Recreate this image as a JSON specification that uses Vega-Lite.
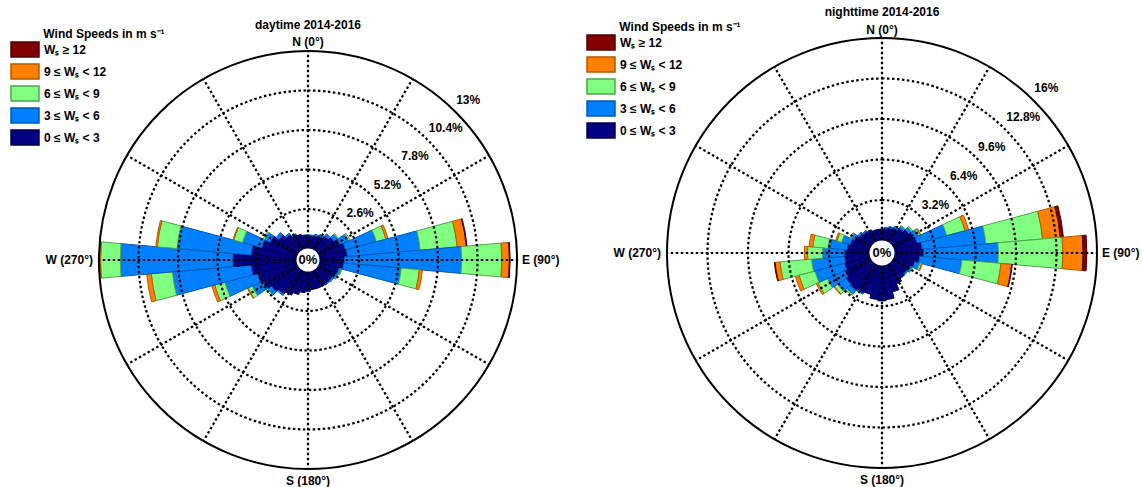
{
  "$schema": "https://vega.github.io/schema/vega-lite/v6.json",
  "width": 1142,
  "height": 487,
  "padding": 0,
  "autosize": {"type": "none"},
  "background": "white",
  "config": {
    "view": {"stroke": null},
    "font": "Liberation Sans",
    "text": {"font": "Liberation Sans", "fontWeight": "bold", "fontSize": 12, "color": "black"}
  },
  "datasets": {
    "bars": [
      {"p":"d","d":0,"k":1,"v":0.85},{"p":"d","d":0,"k":2,"v":0.05},
      {"p":"d","d":10,"k":1,"v":0.85},{"p":"d","d":10,"k":2,"v":0.05},
      {"p":"d","d":20,"k":1,"v":0.9},{"p":"d","d":20,"k":2,"v":0.1},
      {"p":"d","d":30,"k":1,"v":1.0},{"p":"d","d":30,"k":2,"v":0.1},
      {"p":"d","d":40,"k":1,"v":1.15},{"p":"d","d":40,"k":2,"v":0.2},
      {"p":"d","d":50,"k":1,"v":1.35},{"p":"d","d":50,"k":2,"v":0.3},{"p":"d","d":50,"k":3,"v":0.05},
      {"p":"d","d":60,"k":1,"v":1.6},{"p":"d","d":60,"k":2,"v":0.6},{"p":"d","d":60,"k":3,"v":0.1},
      {"p":"d","d":70,"k":1,"v":1.8},{"p":"d","d":70,"k":2,"v":2.1},{"p":"d","d":70,"k":3,"v":0.65},{"p":"d","d":70,"k":4,"v":0.15},
      {"p":"d","d":80,"k":1,"v":1.85},{"p":"d","d":80,"k":2,"v":4.8},{"p":"d","d":80,"k":3,"v":2.45},{"p":"d","d":80,"k":4,"v":0.6},{"p":"d","d":80,"k":5,"v":0.05},
      {"p":"d","d":90,"k":1,"v":1.65},{"p":"d","d":90,"k":2,"v":7.7},{"p":"d","d":90,"k":3,"v":2.65},{"p":"d","d":90,"k":4,"v":0.5},{"p":"d","d":90,"k":5,"v":0.05},
      {"p":"d","d":100,"k":1,"v":1.6},{"p":"d","d":100,"k":2,"v":3.8},{"p":"d","d":100,"k":3,"v":1.2},{"p":"d","d":100,"k":4,"v":0.2},
      {"p":"d","d":110,"k":1,"v":1.35},{"p":"d","d":110,"k":2,"v":0.15},{"p":"d","d":110,"k":3,"v":0.05},
      {"p":"d","d":120,"k":1,"v":1.3},{"p":"d","d":120,"k":2,"v":0.1},{"p":"d","d":120,"k":3,"v":0.05},
      {"p":"d","d":130,"k":1,"v":1.2},{"p":"d","d":130,"k":2,"v":0.1},
      {"p":"d","d":140,"k":1,"v":1.2},{"p":"d","d":140,"k":2,"v":0.05},
      {"p":"d","d":150,"k":1,"v":1.2},
      {"p":"d","d":160,"k":1,"v":1.2},
      {"p":"d","d":170,"k":1,"v":1.2},
      {"p":"d","d":180,"k":1,"v":1.3},
      {"p":"d","d":190,"k":1,"v":1.4},
      {"p":"d","d":200,"k":1,"v":1.6},
      {"p":"d","d":210,"k":1,"v":1.8},
      {"p":"d","d":220,"k":1,"v":2.0},{"p":"d","d":220,"k":2,"v":0.1},
      {"p":"d","d":230,"k":1,"v":2.2},{"p":"d","d":230,"k":2,"v":0.3},{"p":"d","d":230,"k":3,"v":0.1},
      {"p":"d","d":240,"k":1,"v":2.5},{"p":"d","d":240,"k":2,"v":0.8},{"p":"d","d":240,"k":3,"v":0.3},{"p":"d","d":240,"k":4,"v":0.05},
      {"p":"d","d":250,"k":1,"v":2.7},{"p":"d","d":250,"k":2,"v":2.2},{"p":"d","d":250,"k":3,"v":0.7},{"p":"d","d":250,"k":4,"v":0.2},
      {"p":"d","d":260,"k":1,"v":3.0},{"p":"d","d":260,"k":2,"v":5.2},{"p":"d","d":260,"k":3,"v":1.4},{"p":"d","d":260,"k":4,"v":0.3},
      {"p":"d","d":270,"k":1,"v":4.2},{"p":"d","d":270,"k":2,"v":7.4},{"p":"d","d":270,"k":3,"v":1.3},{"p":"d","d":270,"k":4,"v":0.05},
      {"p":"d","d":280,"k":1,"v":3.0},{"p":"d","d":280,"k":2,"v":4.9},{"p":"d","d":280,"k":3,"v":1.3},{"p":"d","d":280,"k":4,"v":0.1},
      {"p":"d","d":290,"k":1,"v":2.4},{"p":"d","d":290,"k":2,"v":1.3},{"p":"d","d":290,"k":3,"v":0.6},{"p":"d","d":290,"k":4,"v":0.05},
      {"p":"d","d":300,"k":1,"v":2.0},{"p":"d","d":300,"k":2,"v":0.4},{"p":"d","d":300,"k":3,"v":0.1},
      {"p":"d","d":310,"k":1,"v":1.6},{"p":"d","d":310,"k":2,"v":0.2},
      {"p":"d","d":320,"k":1,"v":1.3},{"p":"d","d":320,"k":2,"v":0.1},
      {"p":"d","d":330,"k":1,"v":1.1},{"p":"d","d":330,"k":2,"v":0.05},
      {"p":"d","d":340,"k":1,"v":1.0},
      {"p":"d","d":350,"k":1,"v":0.9},

      {"p":"n","d":0,"k":1,"v":0.9},
      {"p":"n","d":10,"k":1,"v":1.0},{"p":"n","d":10,"k":2,"v":0.05},
      {"p":"n","d":20,"k":1,"v":1.1},{"p":"n","d":20,"k":2,"v":0.1},
      {"p":"n","d":30,"k":1,"v":1.2},{"p":"n","d":30,"k":2,"v":0.15},
      {"p":"n","d":40,"k":1,"v":1.4},{"p":"n","d":40,"k":2,"v":0.2},{"p":"n","d":40,"k":3,"v":0.05},
      {"p":"n","d":50,"k":1,"v":1.6},{"p":"n","d":50,"k":2,"v":0.3},{"p":"n","d":50,"k":3,"v":0.1},
      {"p":"n","d":60,"k":1,"v":1.8},{"p":"n","d":60,"k":2,"v":0.4},{"p":"n","d":60,"k":3,"v":0.15},{"p":"n","d":60,"k":4,"v":0.05},
      {"p":"n","d":70,"k":1,"v":1.9},{"p":"n","d":70,"k":2,"v":2.4},{"p":"n","d":70,"k":3,"v":1.5},{"p":"n","d":70,"k":4,"v":0.3},
      {"p":"n","d":80,"k":1,"v":2.2},{"p":"n","d":80,"k":2,"v":5.05},{"p":"n","d":80,"k":3,"v":4.5},{"p":"n","d":80,"k":4,"v":1.4},{"p":"n","d":80,"k":5,"v":0.25},
      {"p":"n","d":90,"k":1,"v":2.3},{"p":"n","d":90,"k":2,"v":5.9},{"p":"n","d":90,"k":3,"v":5.1},{"p":"n","d":90,"k":4,"v":1.6},{"p":"n","d":90,"k":5,"v":0.3},
      {"p":"n","d":100,"k":1,"v":2.0},{"p":"n","d":100,"k":2,"v":3.35},{"p":"n","d":100,"k":3,"v":3.1},{"p":"n","d":100,"k":4,"v":0.85},{"p":"n","d":100,"k":5,"v":0.05},
      {"p":"n","d":110,"k":1,"v":1.7},{"p":"n","d":110,"k":2,"v":0.4},{"p":"n","d":110,"k":3,"v":0.15},{"p":"n","d":110,"k":4,"v":0.05},
      {"p":"n","d":120,"k":1,"v":1.5},{"p":"n","d":120,"k":2,"v":0.15},{"p":"n","d":120,"k":3,"v":0.05},
      {"p":"n","d":130,"k":1,"v":1.4},{"p":"n","d":130,"k":2,"v":0.1},
      {"p":"n","d":140,"k":1,"v":1.5},
      {"p":"n","d":150,"k":1,"v":1.7},
      {"p":"n","d":160,"k":1,"v":2.2},
      {"p":"n","d":170,"k":1,"v":2.7},
      {"p":"n","d":180,"k":1,"v":2.8},
      {"p":"n","d":190,"k":1,"v":2.7},
      {"p":"n","d":200,"k":1,"v":2.4},
      {"p":"n","d":210,"k":1,"v":2.5},{"p":"n","d":210,"k":2,"v":0.1},
      {"p":"n","d":220,"k":1,"v":2.6},{"p":"n","d":220,"k":2,"v":0.4},{"p":"n","d":220,"k":3,"v":0.1},
      {"p":"n","d":230,"k":1,"v":2.5},{"p":"n","d":230,"k":2,"v":0.8},{"p":"n","d":230,"k":3,"v":0.3},{"p":"n","d":230,"k":4,"v":0.05},
      {"p":"n","d":240,"k":1,"v":2.3},{"p":"n","d":240,"k":2,"v":1.5},{"p":"n","d":240,"k":3,"v":0.8},{"p":"n","d":240,"k":4,"v":0.15},
      {"p":"n","d":250,"k":1,"v":2.1},{"p":"n","d":250,"k":2,"v":2.4},{"p":"n","d":250,"k":3,"v":1.3},{"p":"n","d":250,"k":4,"v":0.3},
      {"p":"n","d":260,"k":1,"v":2.0},{"p":"n","d":260,"k":2,"v":2.6},{"p":"n","d":260,"k":3,"v":2.5},{"p":"n","d":260,"k":4,"v":0.4},{"p":"n","d":260,"k":5,"v":0.05},
      {"p":"n","d":270,"k":1,"v":2.0},{"p":"n","d":270,"k":2,"v":1.7},{"p":"n","d":270,"k":3,"v":1.2},{"p":"n","d":270,"k":4,"v":0.25},
      {"p":"n","d":280,"k":1,"v":1.8},{"p":"n","d":280,"k":2,"v":1.5},{"p":"n","d":280,"k":3,"v":1.2},{"p":"n","d":280,"k":4,"v":0.3},
      {"p":"n","d":290,"k":1,"v":1.6},{"p":"n","d":290,"k":2,"v":0.7},{"p":"n","d":290,"k":3,"v":0.4},{"p":"n","d":290,"k":4,"v":0.1},
      {"p":"n","d":300,"k":1,"v":1.4},{"p":"n","d":300,"k":2,"v":0.3},{"p":"n","d":300,"k":3,"v":0.1},
      {"p":"n","d":310,"k":1,"v":1.2},{"p":"n","d":310,"k":2,"v":0.15},
      {"p":"n","d":320,"k":1,"v":1.1},{"p":"n","d":320,"k":2,"v":0.1},
      {"p":"n","d":330,"k":1,"v":1.0},{"p":"n","d":330,"k":2,"v":0.05},
      {"p":"n","d":340,"k":1,"v":0.9},
      {"p":"n","d":350,"k":1,"v":0.9}
    ],
    "rings": [
      {"p":"d","v":2.6,"t":"2.6%"},{"p":"d","v":5.2,"t":"5.2%"},{"p":"d","v":7.8,"t":"7.8%"},{"p":"d","v":10.4,"t":"10.4%"},{"p":"d","v":13,"t":"13%"},
      {"p":"n","v":3.2,"t":"3.2%"},{"p":"n","v":6.4,"t":"6.4%"},{"p":"n","v":9.6,"t":"9.6%"},{"p":"n","v":12.8,"t":"12.8%"},{"p":"n","v":16,"t":"16%"}
    ],
    "spokes": [
      {"p":"d","a":0},{"p":"d","a":30},{"p":"d","a":60},{"p":"d","a":90},{"p":"d","a":120},{"p":"d","a":150},
      {"p":"d","a":180},{"p":"d","a":210},{"p":"d","a":240},{"p":"d","a":270},{"p":"d","a":300},{"p":"d","a":330},
      {"p":"n","a":0},{"p":"n","a":30},{"p":"n","a":60},{"p":"n","a":90},{"p":"n","a":120},{"p":"n","a":150},
      {"p":"n","a":180},{"p":"n","a":210},{"p":"n","a":240},{"p":"n","a":270},{"p":"n","a":300},{"p":"n","a":330}
    ],
    "names": [
      {"p":"d","title":"daytime 2014-2016","n":"N (0°)","s":"S (180°)","e":"E (90°)","w":"W (270°)","c":"0%"},
      {"p":"n","title":"nighttime 2014-2016","n":"N (0°)","s":"S (180°)","e":"E (90°)","w":"W (270°)","c":"0%"}
    ]
  },
  "encoding": {
    "x": {"field": "p", "type": "nominal", "axis": null, "scale": {"type": "point", "domain": ["d", "n"], "range": [308, 882], "padding": 0}},
    "y": {"field": "p", "type": "nominal", "axis": null, "scale": {"type": "point", "domain": ["d", "n"], "range": [260, 253], "padding": 0}}
  },
  "layer": [
    {
      "layer": [
        {
          "data": {"name": "bars"},
          "transform": [
            {"filter": "datum.p == 'd'"},
            {"stack": "v", "groupby": ["d"], "sort": [{"field": "k", "order": "ascending"}], "as": ["r0", "r1"]}
          ],
          "mark": {"type": "arc", "strokeWidth": 1, "binSpacing": 0},
          "encoding": {
            "theta": {"field": "d", "type": "quantitative", "bin": {"step": 10, "extent": [-5, 355], "nice": false}, "scale": {"domain": [0, 360], "range": [0, 6.283185307179586]}},
            "radius": {"field": "r0", "type": "quantitative", "stack": null, "scale": {"type": "linear", "domain": [0, 13], "range": [11.5, 209], "zero": false, "nice": false}},
            "radius2": {"field": "r1"},
            "fill": {"field": "k", "type": "ordinal", "scale": {"domain": [5, 4, 3, 2, 1], "range": ["#800000", "#ff8000", "#80ff80", "#0080ff", "#000080"]},
              "legend": {"orient": "none", "legendX": 10, "legendY": 29, "title": "\u200b\u00a0\u00a0\u00a0\u00a0\u00a0\u00a0\u00a0\u00a0\u00a0\u00a0Wind Speeds in m s⁻¹", "titleFontSize": 12, "titleFontWeight": "bold", "titleFont": "Liberation Sans", "titlePadding": 0, "titleLimit": 400, "labelFont": "Liberation Sans", "labelFontSize": 12, "labelFontWeight": "bold", "labelOffset": 17, "symbolType": "M-1,-1h3.7333v2h-3.7333z", "symbolSize": 225, "symbolStrokeWidth": 1.5, "rowPadding": 1, "padding": 0,
                "labelExpr": "datum.value == 5 ? 'Wₛ ≥ 12' : datum.value == 4 ? '9 ≤ Wₛ < 12' : datum.value == 3 ? '6 ≤ Wₛ < 9' : datum.value == 2 ? '3 ≤ Wₛ < 6' : '0 ≤ Wₛ < 3'"}},
            "stroke": {"field": "k", "type": "ordinal", "scale": {"domain": [5, 4, 3, 2, 1], "range": ["#4d0000", "#b35a00", "#4da64d", "#0059b3", "#00004d"]},
              "legend": {"orient": "none", "legendX": 10, "legendY": 29, "title": "\u200b\u00a0\u00a0\u00a0\u00a0\u00a0\u00a0\u00a0\u00a0\u00a0\u00a0Wind Speeds in m s⁻¹", "titleFontSize": 12, "titleFontWeight": "bold", "titleFont": "Liberation Sans", "titlePadding": 0, "titleLimit": 400, "labelFont": "Liberation Sans", "labelFontSize": 12, "labelFontWeight": "bold", "labelOffset": 17, "symbolType": "M-1,-1h3.7333v2h-3.7333z", "symbolSize": 225, "symbolStrokeWidth": 1.5, "rowPadding": 1, "padding": 0,
                "labelExpr": "datum.value == 5 ? 'Wₛ ≥ 12' : datum.value == 4 ? '9 ≤ Wₛ < 12' : datum.value == 3 ? '6 ≤ Wₛ < 9' : datum.value == 2 ? '3 ≤ Wₛ < 6' : '0 ≤ Wₛ < 3'"}}
          }
        },
        {
          "data": {"name": "rings"},
          "transform": [{"filter": "datum.p == 'd' && datum.v < 13"}],
          "mark": {"type": "arc", "filled": false, "color": "black", "stroke": "black", "strokeWidth": 2.2, "strokeDash": [2.5, 2.5], "theta": 0, "theta2": 6.283185307179586, "radius2": 0},
          "encoding": {"radius": {"field": "v", "type": "quantitative", "stack": null, "scale": {"type": "linear", "domain": [0, 13], "range": [11.5, 209], "zero": false, "nice": false}}}
        },
        {
          "data": {"name": "rings"},
          "transform": [{"filter": "datum.p == 'd' && datum.v == 13"}],
          "mark": {"type": "arc", "filled": false, "color": "black", "stroke": "black", "strokeWidth": 2, "theta": 0, "theta2": 6.283185307179586, "radius2": 0},
          "encoding": {"radius": {"field": "v", "type": "quantitative", "stack": null, "scale": {"type": "linear", "domain": [0, 13], "range": [11.5, 209], "zero": false, "nice": false}}}
        },
        {
          "data": {"name": "spokes"},
          "transform": [{"filter": "datum.p == 'd'"}],
          "mark": {"type": "arc", "filled": false, "color": "black", "stroke": "black", "strokeWidth": 2.2, "strokeDash": [1.25, 3.75]},
          "encoding": {
            "theta": {"field": "a", "type": "quantitative", "stack": null, "scale": {"domain": [0, 360], "range": [0, 6.283185307179586]}},
            "theta2": {"field": "a"},
            "radius": {"datum": 0, "type": "quantitative", "scale": {"type": "linear", "domain": [0, 13], "range": [11.5, 209], "zero": false, "nice": false}},
            "radius2": {"datum": 13}
          }
        },
        {
          "data": {"name": "names"},
          "transform": [{"filter": "datum.p == 'd'"}],
          "mark": {"type": "arc", "fill": "white", "stroke": null, "theta": 0, "theta2": 6.283185307179586, "radius2": 0},
          "encoding": {"radius": {"datum": 0, "type": "quantitative", "scale": {"type": "linear", "domain": [0, 13], "range": [11.5, 209], "zero": false, "nice": false}}}
        },
        {
          "data": {"name": "names"},
          "transform": [{"filter": "datum.p == 'd'"}],
          "mark": {"type": "text", "fontSize": 13, "baseline": "middle", "align": "center"},
          "encoding": {"text": {"field": "c"}}
        },
        {
          "data": {"name": "rings"},
          "transform": [{"filter": "datum.p == 'd'"}],
          "mark": {"type": "text", "align": "left", "baseline": "bottom", "dx": 3, "dy": -3},
          "encoding": {
            "text": {"field": "t"},
            "theta": {"datum": 44, "type": "quantitative", "scale": {"domain": [0, 360], "range": [0, 6.283185307179586]}},
            "radius": {"field": "v", "type": "quantitative", "stack": null, "scale": {"type": "linear", "domain": [0, 13], "range": [11.5, 209], "zero": false, "nice": false}}
          }
        },
        {
          "data": {"name": "names"},
          "transform": [{"filter": "datum.p == 'd'"}],
          "mark": {"type": "text", "align": "center", "baseline": "middle", "dy": -26},
          "encoding": {"text": {"field": "title"}, "theta": {"datum": 0, "type": "quantitative", "scale": {"domain": [0, 360], "range": [0, 6.283185307179586]}}, "radius": {"datum": 13, "type": "quantitative", "scale": {"type": "linear", "domain": [0, 13], "range": [11.5, 209], "zero": false, "nice": false}}}
        },
        {
          "data": {"name": "names"},
          "transform": [{"filter": "datum.p == 'd'"}],
          "mark": {"type": "text", "align": "center", "baseline": "middle", "dy": -9},
          "encoding": {"text": {"field": "n"}, "theta": {"datum": 0, "type": "quantitative"}, "radius": {"datum": 13, "type": "quantitative"}}
        },
        {
          "data": {"name": "names"},
          "transform": [{"filter": "datum.p == 'd'"}],
          "mark": {"type": "text", "align": "center", "baseline": "middle", "dy": 12},
          "encoding": {"text": {"field": "s"}, "theta": {"datum": 180, "type": "quantitative"}, "radius": {"datum": 13, "type": "quantitative"}}
        },
        {
          "data": {"name": "names"},
          "transform": [{"filter": "datum.p == 'd'"}],
          "mark": {"type": "text", "align": "left", "baseline": "middle", "dx": 5},
          "encoding": {"text": {"field": "e"}, "theta": {"datum": 90, "type": "quantitative"}, "radius": {"datum": 13, "type": "quantitative"}}
        },
        {
          "data": {"name": "names"},
          "transform": [{"filter": "datum.p == 'd'"}],
          "mark": {"type": "text", "align": "right", "baseline": "middle", "dx": -6},
          "encoding": {"text": {"field": "w"}, "theta": {"datum": 270, "type": "quantitative"}, "radius": {"datum": 13, "type": "quantitative"}}
        }
      ]
    },
    {
      "layer": [
        {
          "data": {"name": "bars"},
          "transform": [
            {"filter": "datum.p == 'n'"},
            {"stack": "v", "groupby": ["d"], "sort": [{"field": "k", "order": "ascending"}], "as": ["r0", "r1"]}
          ],
          "mark": {"type": "arc", "strokeWidth": 1, "binSpacing": 0},
          "encoding": {
            "theta": {"field": "d", "type": "quantitative", "bin": {"step": 10, "extent": [-5, 355], "nice": false}, "scale": {"domain": [0, 360], "range": [0, 6.283185307179586]}},
            "radius": {"field": "r0", "type": "quantitative", "stack": null, "scale": {"type": "linear", "domain": [0, 16], "range": [12.5, 215], "zero": false, "nice": false}},
            "radius2": {"field": "r1"},
            "fill": {"field": "k", "type": "ordinal", "scale": {"domain": [5, 4, 3, 2, 1], "range": ["#800000", "#ff8000", "#80ff80", "#0080ff", "#000080"]},
              "legend": {"orient": "none", "legendX": 586, "legendY": 22, "title": "\u200b\u00a0\u00a0\u00a0\u00a0\u00a0\u00a0\u00a0\u00a0\u00a0\u00a0Wind Speeds in m s⁻¹", "titleFontSize": 12, "titleFontWeight": "bold", "titleFont": "Liberation Sans", "titlePadding": 0, "titleLimit": 400, "labelFont": "Liberation Sans", "labelFontSize": 12, "labelFontWeight": "bold", "labelOffset": 17, "symbolType": "M-1,-1h3.7333v2h-3.7333z", "symbolSize": 225, "symbolStrokeWidth": 1.5, "rowPadding": 1, "padding": 0,
                "labelExpr": "datum.value == 5 ? 'Wₛ ≥ 12' : datum.value == 4 ? '9 ≤ Wₛ < 12' : datum.value == 3 ? '6 ≤ Wₛ < 9' : datum.value == 2 ? '3 ≤ Wₛ < 6' : '0 ≤ Wₛ < 3'"}},
            "stroke": {"field": "k", "type": "ordinal", "scale": {"domain": [5, 4, 3, 2, 1], "range": ["#4d0000", "#b35a00", "#4da64d", "#0059b3", "#00004d"]},
              "legend": {"orient": "none", "legendX": 586, "legendY": 22, "title": "\u200b\u00a0\u00a0\u00a0\u00a0\u00a0\u00a0\u00a0\u00a0\u00a0\u00a0Wind Speeds in m s⁻¹", "titleFontSize": 12, "titleFontWeight": "bold", "titleFont": "Liberation Sans", "titlePadding": 0, "titleLimit": 400, "labelFont": "Liberation Sans", "labelFontSize": 12, "labelFontWeight": "bold", "labelOffset": 17, "symbolType": "M-1,-1h3.7333v2h-3.7333z", "symbolSize": 225, "symbolStrokeWidth": 1.5, "rowPadding": 1, "padding": 0,
                "labelExpr": "datum.value == 5 ? 'Wₛ ≥ 12' : datum.value == 4 ? '9 ≤ Wₛ < 12' : datum.value == 3 ? '6 ≤ Wₛ < 9' : datum.value == 2 ? '3 ≤ Wₛ < 6' : '0 ≤ Wₛ < 3'"}}
          }
        },
        {
          "data": {"name": "rings"},
          "transform": [{"filter": "datum.p == 'n' && datum.v < 16"}],
          "mark": {"type": "arc", "filled": false, "color": "black", "stroke": "black", "strokeWidth": 2.2, "strokeDash": [2.5, 2.5], "theta": 0, "theta2": 6.283185307179586, "radius2": 0},
          "encoding": {"radius": {"field": "v", "type": "quantitative", "stack": null, "scale": {"type": "linear", "domain": [0, 16], "range": [12.5, 215], "zero": false, "nice": false}}}
        },
        {
          "data": {"name": "rings"},
          "transform": [{"filter": "datum.p == 'n' && datum.v == 16"}],
          "mark": {"type": "arc", "filled": false, "color": "black", "stroke": "black", "strokeWidth": 2, "theta": 0, "theta2": 6.283185307179586, "radius2": 0},
          "encoding": {"radius": {"field": "v", "type": "quantitative", "stack": null, "scale": {"type": "linear", "domain": [0, 16], "range": [12.5, 215], "zero": false, "nice": false}}}
        },
        {
          "data": {"name": "spokes"},
          "transform": [{"filter": "datum.p == 'n'"}],
          "mark": {"type": "arc", "filled": false, "color": "black", "stroke": "black", "strokeWidth": 2.2, "strokeDash": [1.25, 3.75]},
          "encoding": {
            "theta": {"field": "a", "type": "quantitative", "stack": null, "scale": {"domain": [0, 360], "range": [0, 6.283185307179586]}},
            "theta2": {"field": "a"},
            "radius": {"datum": 0, "type": "quantitative", "scale": {"type": "linear", "domain": [0, 16], "range": [12.5, 215], "zero": false, "nice": false}},
            "radius2": {"datum": 16}
          }
        },
        {
          "data": {"name": "names"},
          "transform": [{"filter": "datum.p == 'n'"}],
          "mark": {"type": "arc", "fill": "white", "stroke": null, "theta": 0, "theta2": 6.283185307179586, "radius2": 0},
          "encoding": {"radius": {"datum": 0, "type": "quantitative", "scale": {"type": "linear", "domain": [0, 16], "range": [12.5, 215], "zero": false, "nice": false}}}
        },
        {
          "data": {"name": "names"},
          "transform": [{"filter": "datum.p == 'n'"}],
          "mark": {"type": "text", "fontSize": 13, "baseline": "middle", "align": "center"},
          "encoding": {"text": {"field": "c"}}
        },
        {
          "data": {"name": "rings"},
          "transform": [{"filter": "datum.p == 'n'"}],
          "mark": {"type": "text", "align": "left", "baseline": "bottom", "dx": 3, "dy": -3},
          "encoding": {
            "text": {"field": "t"},
            "theta": {"datum": 44, "type": "quantitative", "scale": {"domain": [0, 360], "range": [0, 6.283185307179586]}},
            "radius": {"field": "v", "type": "quantitative", "stack": null, "scale": {"type": "linear", "domain": [0, 16], "range": [12.5, 215], "zero": false, "nice": false}}
          }
        },
        {
          "data": {"name": "names"},
          "transform": [{"filter": "datum.p == 'n'"}],
          "mark": {"type": "text", "align": "center", "baseline": "middle", "dy": -26},
          "encoding": {"text": {"field": "title"}, "theta": {"datum": 0, "type": "quantitative", "scale": {"domain": [0, 360], "range": [0, 6.283185307179586]}}, "radius": {"datum": 16, "type": "quantitative", "scale": {"type": "linear", "domain": [0, 16], "range": [12.5, 215], "zero": false, "nice": false}}}
        },
        {
          "data": {"name": "names"},
          "transform": [{"filter": "datum.p == 'n'"}],
          "mark": {"type": "text", "align": "center", "baseline": "middle", "dy": -8},
          "encoding": {"text": {"field": "n"}, "theta": {"datum": 0, "type": "quantitative"}, "radius": {"datum": 16, "type": "quantitative"}}
        },
        {
          "data": {"name": "names"},
          "transform": [{"filter": "datum.p == 'n'"}],
          "mark": {"type": "text", "align": "center", "baseline": "middle", "dy": 12},
          "encoding": {"text": {"field": "s"}, "theta": {"datum": 180, "type": "quantitative"}, "radius": {"datum": 16, "type": "quantitative"}}
        },
        {
          "data": {"name": "names"},
          "transform": [{"filter": "datum.p == 'n'"}],
          "mark": {"type": "text", "align": "left", "baseline": "middle", "dx": 5},
          "encoding": {"text": {"field": "e"}, "theta": {"datum": 90, "type": "quantitative"}, "radius": {"datum": 16, "type": "quantitative"}}
        },
        {
          "data": {"name": "names"},
          "transform": [{"filter": "datum.p == 'n'"}],
          "mark": {"type": "text", "align": "right", "baseline": "middle", "dx": -6},
          "encoding": {"text": {"field": "w"}, "theta": {"datum": 270, "type": "quantitative"}, "radius": {"datum": 16, "type": "quantitative"}}
        }
      ]
    }
  ],
  "resolve": {
    "scale": {"radius": "independent", "fill": "independent", "stroke": "independent"},
    "legend": {"fill": "independent", "stroke": "independent"}
  }
}
